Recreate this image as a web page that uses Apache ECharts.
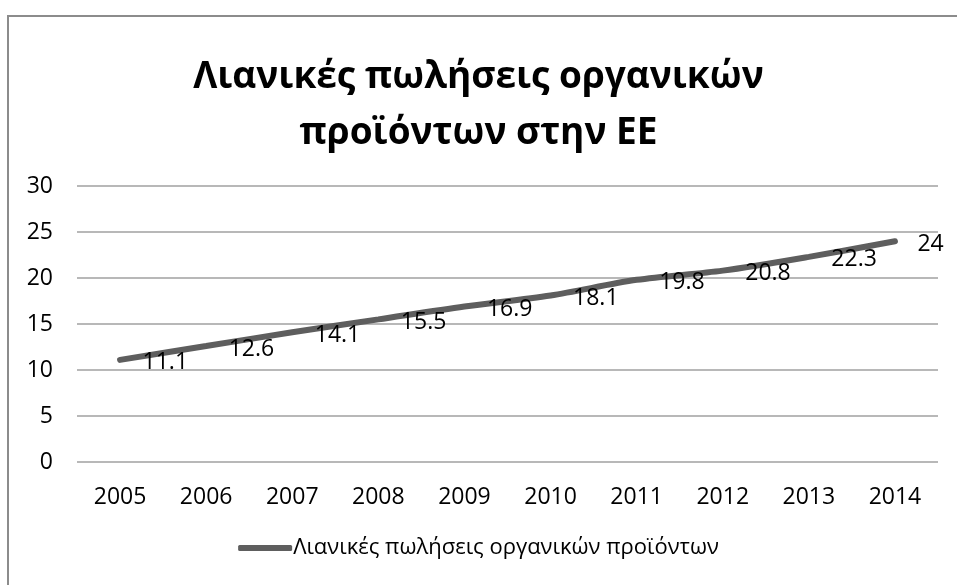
<!DOCTYPE html>
<html>
<head>
<meta charset="utf-8">
<script src="https://cdn.jsdelivr.net/npm/echarts@6/dist/echarts.min.js"></script>
<style>
  html, body { margin: 0; padding: 0; background: #ffffff; }
  #chart { width: 957px; height: 585px; }
</style>
</head>
<body>
<div id="chart"></div>
<script>
// Retail sales of organic products in the EU, 2005–2014
const years = ['2005', '2006', '2007', '2008', '2009', '2010', '2011', '2012', '2013', '2014'];
const sales = [11.1, 12.6, 14.1, 15.5, 16.9, 18.1, 19.8, 20.8, 22.3, 24];
const seriesName = 'Λιανικές πωλήσεις οργανικών προϊόντων';
const titleText = 'Λιανικές πωλήσεις οργανικών\nπροϊόντων στην ΕΕ';

const font = '"Open Sans", "Noto Sans", sans-serif';
const lineColor = '#5e5e5e';

const chart = echarts.init(document.getElementById('chart'), null, { renderer: 'canvas' });

chart.setOption({
  backgroundColor: '#ffffff',
  animation: false,
  graphic: [{
    type: 'rect',
    shape: { x: 8, y: 16, width: 1000, height: 700 },
    style: { fill: 'none', stroke: '#8c8c8c', lineWidth: 2 },
    silent: true
  }],
  title: {
    text: titleText,
    left: 'center',
    top: 44,
    textStyle: {
      fontFamily: font,
      fontSize: 37,
      fontWeight: 'bold',
      color: '#000000',
      lineHeight: 56,
      align: 'center'
    }
  },
  legend: {
    bottom: 21,
    left: 'center',
    itemWidth: 54,
    itemHeight: 6,
    itemGap: 0,
    icon: 'roundRect',
    textStyle: { fontFamily: font, fontSize: 22, color: '#000000', padding: [0, 0, 0, -4] },
    data: [{ name: seriesName, itemStyle: { color: lineColor } }]
  },
  grid: {
    left: 77,
    right: 19,
    top: 186,
    bottom: 123,
    containLabel: false
  },
  xAxis: {
    type: 'category',
    data: years,
    boundaryGap: true,
    axisLine: { show: false },
    axisTick: { show: false },
    axisLabel: { fontFamily: font, fontSize: 23, color: '#000000', margin: 24 }
  },
  yAxis: {
    type: 'value',
    min: 0,
    max: 30,
    interval: 5,
    axisLine: { show: false },
    axisTick: { show: false },
    axisLabel: { fontFamily: font, fontSize: 23, color: '#000000', margin: 24 },
    splitLine: { lineStyle: { color: '#a0a0a0', width: 1.5 } }
  },
  series: [{
    name: seriesName,
    type: 'line',
    data: sales,
    smooth: 0.3,
    symbol: 'circle',
    symbolSize: 1,
    showSymbol: true,
    lineStyle: { color: lineColor, width: 6, cap: 'round' },
    itemStyle: { color: 'rgba(0,0,0,0)', borderWidth: 0 },
    label: {
      show: true,
      position: 'right',
      distance: 22,
      offset: [0, 3],
      fontFamily: font,
      fontSize: 23,
      color: '#000000'
    }
  }]
});
</script>
</body>
</html>
